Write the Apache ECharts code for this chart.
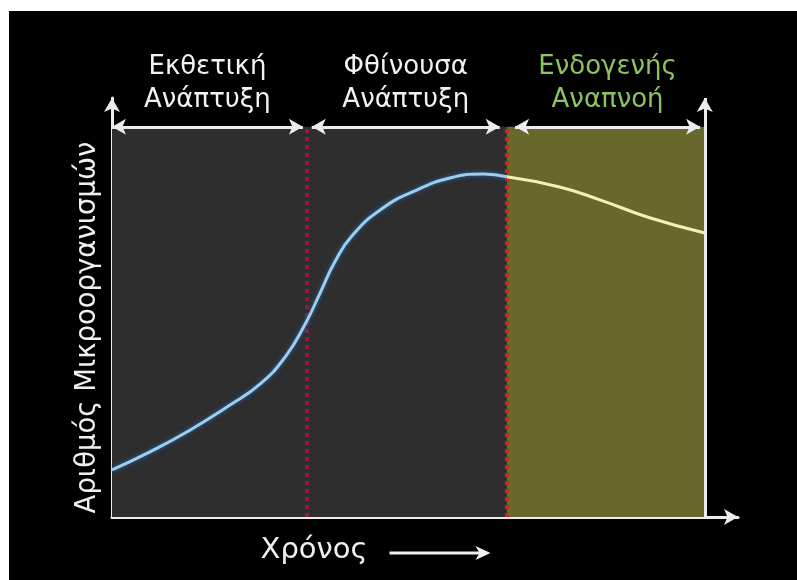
<!DOCTYPE html>
<html>
<head>
<meta charset="utf-8">
<script src="https://cdn.jsdelivr.net/npm/echarts@6/dist/echarts.min.js"></script>
<style>
    html, body { margin: 0; padding: 0; background: #ffffff; }
    #chart { position: absolute; left: 9px; top: 11px; width: 788px; height: 569px; background: #000000; }
</style>
</head>
<body>
<div id="chart"></div>
<script>
// χρόνος (0..100) και αριθμός μικροοργανισμών (0..100), εκτίμηση από την εικόνα
const timeValues = [0, 6.4, 13.2, 19.9, 25.0, 29.2, 32.5, 35.1, 37.6, 40.5, 45.7, 51.4, 57.0, 62.6, 66.6, 75.5, 82.3, 90.7, 100];
const countValues = [12.1, 16.7, 22.3, 28.7, 34.1, 41.0, 49.2, 57.4, 65.4, 72.1, 79.2, 83.8, 86.9, 87.9, 87.2, 84.6, 81.3, 76.7, 72.8];

// όρια φάσεων και ονόματα
const phaseEdges = [0, 32.9, 66.6, 100];
const phaseArrows = [[0, 32.2], [33.7, 65.4], [68.0, 99.2]];
const phaseNames = ['Εκθετική\nΑνάπτυξη', 'Φθίνουσα\nΑνάπτυξη', 'Ενδογενής\nΑναπνοή'];
const phaseColors = ['#2e2e2e', '#2e2e2e', '#68672c'];
const phaseTextColors = ['#f2f2f2', '#f2f2f2', '#8cc262'];
const dividerColors = ['#8e1c3e', '#c62a1e'];

const regionTop = 100;
const xMax = 105.6;
const yMax = 107.4;

const font = 'DejaVu Sans';
const chart = echarts.init(document.getElementById('chart'));

const curve = timeValues.map((t, i) => [t, countValues[i]]);
const growthPart = curve.filter(p => p[0] <= phaseEdges[2]);
const respirationPart = curve.filter(p => p[0] >= phaseEdges[2]);

chart.setOption({
    backgroundColor: '#000000',
    animation: false,
    grid: { left: 103, right: 59, top: 87, bottom: 63 },
    xAxis: {
        type: 'value',
        min: 0,
        max: xMax,
        name: 'Χρόνος',
        nameLocation: 'middle',
        nameGap: 19,
        nameTextStyle: { color: '#f0f0f0', fontSize: 29, fontFamily: font, padding: [0, 222, 0, 0] },
        axisLine: { show: true, symbol: ['none', 'arrow'], symbolSize: [12, 14], lineStyle: { color: '#ececec', width: 3 } },
        axisTick: { show: false },
        axisLabel: { show: false },
        splitLine: { show: false }
    },
    yAxis: {
        type: 'value',
        min: 0,
        max: yMax,
        name: 'Αριθμός Μικροοργανισμών',
        nameLocation: 'middle',
        nameRotate: 90,
        nameGap: 10,
        nameTextStyle: { color: '#f0f0f0', fontSize: 27.5, fontFamily: font, padding: [0, 40, 0, 0] },
        axisLine: { show: true, symbol: ['none', 'arrow'], symbolSize: [12, 14], lineStyle: { color: '#ececec', width: 3 } },
        axisTick: { show: false },
        axisLabel: { show: false },
        splitLine: { show: false }
    },
    graphic: [
        {
            type: 'group',
            left: 378,
            top: 535,
            children: [
                { type: 'line', shape: { x1: 0, y1: 7, x2: 92, y2: 7 }, style: { stroke: '#f0f0f0', lineWidth: 3 } },
                { type: 'polygon', shape: { points: [[86, 0], [101, 7], [86, 14], [90, 7]] }, style: { fill: '#f0f0f0' } }
            ]
        }
    ],
    series: [
        {
            type: 'line',
            data: growthPart,
            smooth: 0.5,
            showSymbol: false,
            z: 5,
            lineStyle: { width: 3, color: '#9ccfee', shadowColor: 'rgba(40, 110, 190, 0.9)', shadowBlur: 4 }
        },
        {
            type: 'line',
            data: respirationPart,
            smooth: 0.5,
            showSymbol: false,
            z: 5,
            lineStyle: { width: 3, color: '#f2f2b0' }
        },
        {
            type: 'line',
            data: [],
            markArea: {
                silent: true,
                data: phaseColors.map((c, i) => [
                    { xAxis: phaseEdges[i], yAxis: 0, itemStyle: { color: c } },
                    { xAxis: phaseEdges[i + 1], yAxis: regionTop }
                ])
            },
            markLine: {
                silent: true,
                symbol: ['none', 'none'],
                data: [
                    ...dividerColors.map((c, i) => [
                        { coord: [phaseEdges[i + 1], 0], lineStyle: { color: c, width: 4, type: 'dotted' } },
                        { coord: [phaseEdges[i + 1], regionTop] }
                    ]),
                    [
                        { coord: [phaseEdges[3], 0], symbol: 'none', lineStyle: { color: '#ececec', width: 3, type: 'solid' } },
                        { coord: [phaseEdges[3], yMax], symbol: 'arrow', symbolSize: [12, 14] }
                    ],
                    ...phaseArrows.map((a, i) => [
                        {
                            coord: [a[0], regionTop],
                            symbol: 'arrow',
                            symbolSize: [12, 14],
                            lineStyle: { color: '#ececec', width: 3, type: 'solid' },
                            label: {
                                show: true,
                                position: 'middle',
                                formatter: phaseNames[i],
                                color: phaseTextColors[i],
                                fontSize: 26,
                                fontFamily: font,
                                lineHeight: 33,
                                align: 'center',
                                distance: 10
                            }
                        },
                        { coord: [a[1], regionTop], symbol: 'arrow', symbolSize: [12, 14] }
                    ])
                ],
                label: { show: false }
            }
        }
    ]
});
</script>
</body>
</html>
